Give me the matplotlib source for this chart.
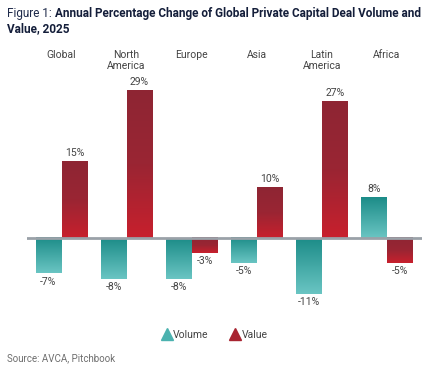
import numpy as np
import matplotlib
matplotlib.use("Agg")
from matplotlib import pyplot as plt
from matplotlib.colors import LinearSegmentedColormap
from matplotlib.lines import Line2D

regions = ["Global", "North\nAmerica", "Europe", "Asia", "Latin\nAmerica", "Africa"]
volume = [-7, -8, -8, -5, -11, 8]
value = [15, 29, -3, 10, 27, -5]

narrow = ["Liberation Sans Narrow", "Roboto", "DejaVu Sans"]
plt.rcParams['font.family'] = ["Roboto", "DejaVu Sans"]

teal_cmap = LinearSegmentedColormap.from_list("teal", ["#1c8c88", "#6ac5c3"])
red_cmap = LinearSegmentedColormap.from_list("red", ["#8e2634", "#9a2533", "#c8202d"])

fig = plt.figure(figsize=(4.27, 3.73), dpi=100)
ax = fig.add_axes([27 / 427, 73 / 373, 395 / 427, 260 / 373])

x = np.arange(len(regions))
w = 0.385
grad = np.linspace(0, 1, 256).reshape(-1, 1)


def grad_bar(xc, h, cmap):
    bottom, top = min(0, h), max(0, h)
    ax.imshow(grad, cmap=cmap, aspect='auto', origin='upper',
              extent=[xc - w / 2, xc + w / 2, bottom, top], zorder=2)


for i in range(len(regions)):
    grad_bar(x[i] - 0.2, volume[i], teal_cmap)
    grad_bar(x[i] + 0.2, value[i], red_cmap)
    for xc, v in [(x[i] - 0.2, volume[i]), (x[i] + 0.2, value[i])]:
        if v >= 0:
            ax.text(xc, v + 0.7, f"{v}%", ha='center', va='bottom', fontsize=7.5, color="#444444")
        else:
            ax.text(xc, v - 0.6, f"{v}%", ha='center', va='top', fontsize=7.5, color="#444444")
    ax.text(x[i], 37.0, regions[i], ha='center', va='top', fontsize=7.5, color="#444444",
            linespacing=1.05)

ax.axhline(0, color="#9aa1a8", lw=2, zorder=3)
ax.set_xlim(-0.53, 5.54)
ax.set_ylim(-12.23, 39.05)
ax.axis('off')

# title: regular prefix + bold rest
t1 = fig.text(7 / 427, 1 - 14 / 373, "Figure 1: ", fontsize=8.5, color="#1e2a4a",
              family=narrow, va='center')
fig.canvas.draw()
bb = t1.get_window_extent()
fig.text(bb.x1 / fig.bbox.width, 1 - 14 / 373,
         "Annual Percentage Change of Global Private Capital Deal Volume and",
         fontsize=8.5, color="#141e3a", family=narrow, fontweight='bold', va='center')
fig.text(7 / 427, 1 - 29 / 373, "Value, 2025", fontsize=8.5, color="#141e3a",
         family=narrow, fontweight='bold', va='center')

handles = [Line2D([], [], marker='^', ls='', color="#4bb2af", markersize=8),
           Line2D([], [], marker='^', ls='', color="#a82431", markersize=8)]
fig.legend(handles, ["Volume", "Value"], loc='center', bbox_to_anchor=(214 / 427, 1 - 335 / 373),
           ncol=2, frameon=False, fontsize=7.5, handletextpad=0.0, columnspacing=2.0,
           handlelength=1.2, labelcolor="#444444")

fig.text(7 / 427, 1 - 358 / 373, "Source: AVCA, Pitchbook", fontsize=7, color="#6e6e6e",
         va='center')

plt.savefig("out.png", dpi=100)
